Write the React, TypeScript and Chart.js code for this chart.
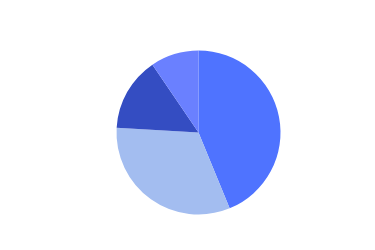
import React, { useEffect, useRef } from "react";
import { Chart, registerables } from "chart.js";

Chart.register(...registerables);

const categories = ["A", "B", "C", "D"];
const values = [43.8, 32.1, 14.6, 9.5];
const colors = ["#4F73FF", "#A3BDF0", "#344DC2", "#6A80FF"];

export default function App() {
  const ref = useRef<HTMLCanvasElement | null>(null);
  useEffect(() => {
    if (!ref.current) return;
    const chart = new Chart(ref.current, {
      type: "pie",
      data: {
        labels: categories,
        datasets: [
          {
            data: values,
            backgroundColor: colors,
            borderWidth: 0,
          },
        ],
      },
      options: {
        animation: false,
        responsive: false,
        maintainAspectRatio: false,
        layout: { padding: { left: 116.5, right: 94.5, top: 50.5, bottom: 35.5 } },
        plugins: { legend: { display: false }, tooltip: { enabled: false } },
      },
    });
    return () => chart.destroy();
  }, []);
  return (
    <div style={{ position: "fixed", left: 0, top: 0, width: 375, height: 250, background: "#fff" }}>
      <canvas ref={ref} width={375} height={250} style={{ width: 375, height: 250 }} />
    </div>
  );
}
